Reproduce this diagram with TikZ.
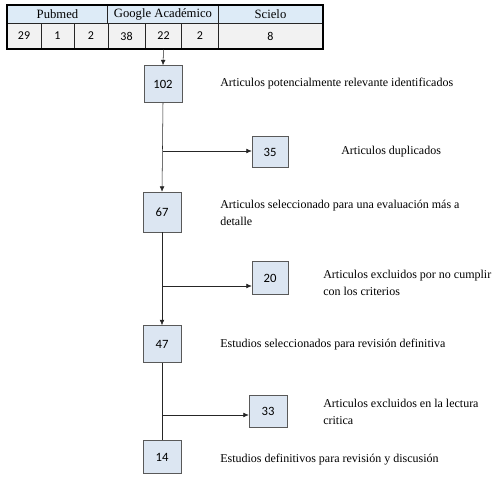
\documentclass[tikz,border=0pt]{standalone}
\usepackage{fontspec}
\setmainfont{Liberation Serif}
\newfontfamily\numfont{Carlito}
\usetikzlibrary{arrows.meta,positioning}
\definecolor{hdrblue}{RGB}{221,235,247}
\definecolor{boxblue}{RGB}{220,230,242}
\definecolor{cellgray}{RGB}{242,242,242}

\begin{document}
\begin{tikzpicture}[x=0.75pt, y=-0.75pt,
  hdr/.style={draw=black!85, fill=hdrblue, minimum height=18*0.75pt, inner sep=0pt, font=\fontsize{9.5}{11}\selectfont},
  cell/.style={draw=black!85, fill=cellgray, minimum height=26*0.75pt, inner sep=0pt, font=\numfont\fontsize{9}{11}\selectfont},
  box/.style={draw=black!65, fill=boxblue, minimum width=38*0.75pt, minimum height=37*0.75pt, inner sep=0pt, font=\numfont\fontsize{9.5}{11}\selectfont},
  sbox/.style={box, minimum width=36*0.75pt, minimum height=31*0.75pt},
  lbl/.style={anchor=west, align=left, inner sep=0pt, text=black, font=\rmfamily\fontsize{9}{13}\selectfont},
  arr/.style={-{Latex[length=4pt,width=3.5pt]}, black!85}]
\useasboundingbox (0,0) rectangle (496,488);

% table of sources
\node[hdr, minimum width=101*0.75pt] (pub) at (57.5,14) {Pubmed};
\node[hdr, minimum width=111*0.75pt] (goo) at (163,14) {Google Académico};
\node[hdr, minimum width=104*0.75pt] (sci) at (270.5,14) {Scielo};
\node[cell, minimum width=34*0.75pt] (p1) at (24,36) {29};
\node[cell, minimum width=33*0.75pt] (p2) at (57.5,36) {1};
\node[cell, minimum width=34*0.75pt] (p3) at (91,36) {2};
\node[cell, minimum width=37*0.75pt] (g1) at (126.5,36) {38};
\node[cell, minimum width=37*0.75pt] (g2) at (163.5,36) {22};
\node[cell, minimum width=37*0.75pt] (g3) at (200,36) {2};
\node[cell, minimum width=104*0.75pt] (s1) at (270.5,36) {8};
\draw[line width=1.2pt] (pub.north west) rectangle (s1.south east);

% main flow
\node[box] (n102) at (163,84) {102};
\node[sbox] (n35) at (270,152) {35};
\node[box, minimum height=40*0.75pt] (n67) at (162,212) {67};
\node[sbox, minimum height=33*0.75pt] (n20) at (270,278) {20};
\node[box] (n47) at (162,344) {47};
\node[sbox, minimum width=38*0.75pt, minimum height=32*0.75pt] (n33) at (268,411) {33};
\node[box, minimum height=33*0.75pt] (n14) at (162,457) {14};

\node[lbl] (t102) at (220,84) {Articulos potencialmente relevante identificados};
\node[lbl] (t35) at (341,152) {Articulos duplicados};
\node[lbl] (t67) at (220,213) {Articulos seleccionado para una evaluación más a\\detalle};
\node[lbl] (t20) at (323,283) {Articulos excluidos por no cumplir\\con los criterios};
\node[lbl] (t47) at (220,345) {Estudios seleccionados para revisión definitiva};
\node[lbl] (t33) at (323,412) {Articulos excluidos en la lectura\\critica};
\node[lbl] (t14) at (220,460) {Estudios definitivos para revisión y discusión};

\coordinate (b35) at (163,151);
\coordinate (b20) at (163,286);
\coordinate (b33) at (163,415);

\draw[arr] (g2.south) -- (n102.north);
\draw[arr] (n102.south) -- (n67.north);
\draw[arr] (n67.south) -- (n47.north);
\draw[black!85] (n47.south) -- (n14.north);
\draw[arr] (b35) -- (b35-|n35.west);
\draw[arr] (b20) -- (b20-|n20.west);
\draw[arr] (b33) -- (b33-|n33.west);

\end{tikzpicture}
\end{document}
